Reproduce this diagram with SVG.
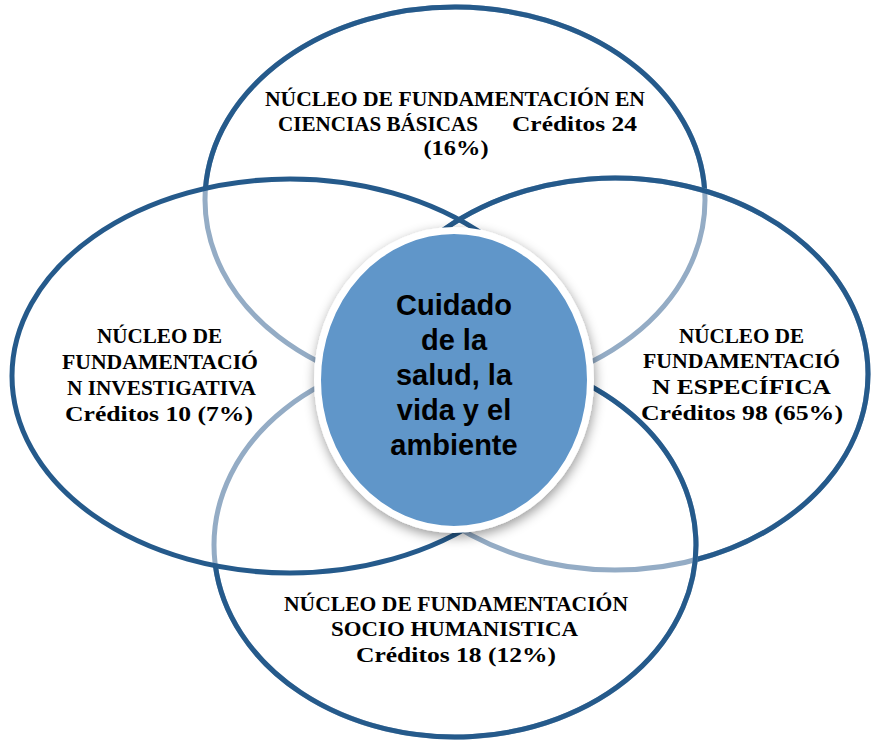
<svg xmlns="http://www.w3.org/2000/svg" width="876" height="742" viewBox="0 0 876 742">
<style>
.light{fill:none;stroke:#94acc5;stroke-width:5}
.dark{fill:none;stroke:#255a8b;stroke-width:5}
.lbl{font-family:"Liberation Serif","Times New Roman",serif;font-weight:bold;font-size:22px;fill:#000;text-anchor:middle}
.ctr{font-family:"Liberation Sans",Arial,sans-serif;font-weight:bold;font-size:29px;fill:#000;text-anchor:middle}
</style>
<defs>
<filter id="sh" x="-20%" y="-20%" width="140%" height="140%">
<feDropShadow dx="1" dy="4" stdDeviation="6" flood-color="#000" flood-opacity="0.4"/>
</filter>
</defs>
<rect width="876" height="742" fill="#fff"/>
<g id="connectors"></g>
<g id="node-top">
<ellipse class="light" cx="455" cy="200" rx="250" ry="193"/>
<path class="dark" d="M205.5 188 A250 193 0 0 1 704.7 190.5"/>
<text class="lbl" x="455" y="106" textLength="380" lengthAdjust="spacingAndGlyphs">NÚCLEO DE FUNDAMENTACIÓN EN</text>
<text class="lbl" x="378" y="131" textLength="200" lengthAdjust="spacingAndGlyphs">CIENCIAS BÁSICAS</text>
<text class="lbl" x="574.5" y="131" textLength="125" lengthAdjust="spacingAndGlyphs">Créditos 24</text>
<text class="lbl" x="456" y="155" textLength="65" lengthAdjust="spacingAndGlyphs">(16%)</text>
</g>
<g id="node-right">
<ellipse class="light" cx="615" cy="374" rx="253" ry="196"/>
<path class="dark" d="M362 374 A253 196 0 1 1 695 560"/>
<text class="lbl" x="741.5" y="343" textLength="125" lengthAdjust="spacingAndGlyphs">NÚCLEO DE</text>
<text class="lbl" x="741.5" y="368" textLength="197" lengthAdjust="spacingAndGlyphs">FUNDAMENTACIÓ</text>
<text class="lbl" x="741.5" y="394" textLength="179" lengthAdjust="spacingAndGlyphs">N ESPECÍFICA</text>
<text class="lbl" x="742" y="420" textLength="202" lengthAdjust="spacingAndGlyphs">Créditos 98 (65%)</text>
</g>
<g id="node-bottom">
<ellipse class="light" cx="455" cy="545" rx="241" ry="192"/>
<path class="dark" d="M215.4 565.8 A241 192 0 1 0 455 353"/>
<text class="lbl" x="456" y="611" textLength="344" lengthAdjust="spacingAndGlyphs">NÚCLEO DE FUNDAMENTACIÓN</text>
<text class="lbl" x="454.5" y="636" textLength="247" lengthAdjust="spacingAndGlyphs">SOCIO HUMANISTICA</text>
<text class="lbl" x="456" y="662" textLength="200" lengthAdjust="spacingAndGlyphs">Créditos 18 (12%)</text>
</g>
<g id="node-left">
<ellipse class="dark" cx="290" cy="376" rx="278" ry="197"/>
<text class="lbl" x="159.5" y="343" textLength="125" lengthAdjust="spacingAndGlyphs">NÚCLEO DE</text>
<text class="lbl" x="160" y="369" textLength="196" lengthAdjust="spacingAndGlyphs">FUNDAMENTACIÓ</text>
<text class="lbl" x="161.5" y="395" textLength="189" lengthAdjust="spacingAndGlyphs">N INVESTIGATIVA</text>
<text class="lbl" x="159" y="421" textLength="188" lengthAdjust="spacingAndGlyphs">Créditos 10 (7%)</text>
</g>
<g id="node-center">
<ellipse cx="454" cy="380" rx="136.5" ry="149.5" fill="#6096c9" stroke="#fff" stroke-width="7" filter="url(#sh)"/>
<text class="ctr" x="454" y="315">Cuidado</text>
<text class="ctr" x="454" y="350">de la</text>
<text class="ctr" x="454" y="385">salud, la</text>
<text class="ctr" x="454" y="420">vida y el</text>
<text class="ctr" x="454" y="455">ambiente</text>
</g>
</svg>
